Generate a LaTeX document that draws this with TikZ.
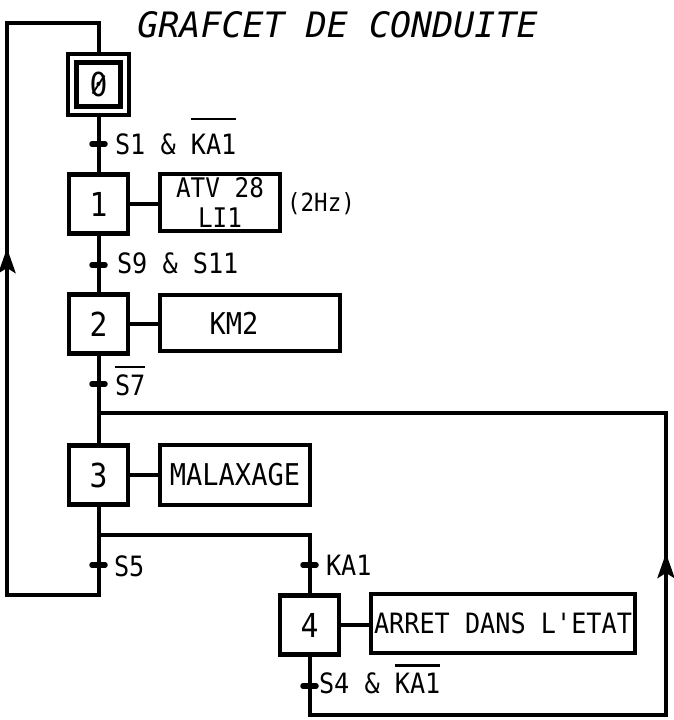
\documentclass[tikz,border=0pt]{standalone}
\usepackage{fontspec}
\usetikzlibrary{arrows.meta}
\newfontfamily\pf[FakeStretch=0.9,Ligatures=TeXOff]{DejaVu Sans Mono}
\newfontfamily\tf{DejaVu Sans Mono}
\newcommand\ob[2][8pt]{\setbox0\hbox{#2}\rlap{\raisebox{\dimexpr\ht0+#1\relax}{\rule{\wd0}{2.5pt}}}\box0}
\begin{document}
\begin{tikzpicture}[x=1pt,y=-1pt,line width=4pt,
  stepbox/.style={draw,line width=4.5pt,minimum size=59pt,inner sep=0pt,font=\pf\fontsize{33}{33}\selectfont},
  actbox/.style={draw,line width=4.5pt,inner sep=0pt,align=center,font=\pf\fontsize{29}{31}\selectfont},
  lab/.style={anchor=base west,inner sep=0pt,font=\pf\fontsize{28}{28}\selectfont},
  tick/.style={line width=5.5pt,line cap=round},
  uparrow/.style={-{Stealth[length=25pt,width=17pt,inset=5pt]}}]
\useasboundingbox (0,0) rectangle (674,720);
% title
\node[anchor=base,inner sep=0pt,font=\tf\itshape\fontsize{35}{35}\selectfont] (title) at (337.5,37) {GRAFCET DE CONDUITE};
% steps
\node[stepbox,minimum size=44pt] (s0) at (98.5,84.5) {0};
\node[draw,line width=4.5pt,minimum size=61pt,inner sep=0pt] (s0o) at (s0) {};
\draw[line width=1.8pt] ([shift={(-6,9)}]s0.center) -- ([shift={(6,-9)}]s0.center);
\node[stepbox] (s1) at (98.5,204) {1};
\node[stepbox] (s2) at (98.5,324) {2};
\node[stepbox] (s3) at (98.5,475) {3};
\node[stepbox] (s4) at (309.5,625) {4};
% actions
\node[actbox,minimum width=120pt,minimum height=57pt,font=\pf\fontsize{27}{30}\selectfont] (a1) at (220,202.5) {ATV 28\\LI1};
\node[inner sep=0pt,font=\pf\fontsize{25}{25}\selectfont] (hz) at (321,204) {(2Hz)};
\node[actbox,minimum width=180pt,minimum height=56pt,font=\pf\fontsize{30}{30}\selectfont] (a2) at (250,323) {KM2\hspace{32pt}};
\node[actbox,minimum width=150pt,minimum height=60pt,font=\pf\fontsize{30}{30}\selectfont] (a3) at (235,475) {MALAXAGE};
\node[actbox,minimum width=264pt,minimum height=59pt,font=\pf\fontsize{28}{28}\selectfont] (a4) at (503,623.5) {ARRET DANS L'ETAT};
% coordinates
\coordinate (t1) at (98.5,144);
\coordinate (t2) at (98.5,265);
\coordinate (t3) at (98.5,384);
\coordinate (t4) at (98.5,565);
\coordinate (t5) at (309.5,565);
\coordinate (t6) at (309.5,686);
\coordinate (jt) at (98.5,413);
\coordinate (rt) at (666,413);
\coordinate (rb) at (666,715);
\coordinate (b3) at (98.5,535);
\coordinate (bl) at (98.5,595);
\coordinate (lb) at (7,595);
\coordinate (lt) at (7,23);
\coordinate (mt) at (98.5,23);
\coordinate (la0) at (7,290);
\coordinate (la) at (7,248);
\coordinate (ra0) at (666,595);
\coordinate (ra) at (666,553);
% connectors
\draw (s0o.south) -- (s1.north);
\draw (s1.south) -- (s2.north);
\draw (s2.south) -- (s3.north);
\draw (s3.south) -- (b3) -| (s4.north);
\draw (b3) -- (bl) -- (lb) -- (lt) -- (mt) -- (s0o.north);
\draw (s4.south) |- (rb) -- (rt) -- (jt);
\draw (s1.east) -- (s1.east -| a1.west);
\draw (s2.east) -- (s2.east -| a2.west);
\draw (s3.east) -- (s3.east -| a3.west);
\draw (s4.east) -- (s4.east -| a4.west);
\draw[uparrow] (la0) -- (la);
\draw[uparrow] (ra0) -- (ra);
% transitions
\foreach \t in {t1,t2,t3,t4,t5,t6}{\draw[tick] ([xshift=-6.5pt]\t) -- ([xshift=6.5pt]\t);}
\node[lab] (l1) at (113,154) {S1 \& \ob[13.5pt]{KA1}};
\node[lab] (l2) at (115,273) {S9 \& S11};
\node[lab] (l3) at (113,395) {\ob[6pt]{S7}};
\node[lab] (l4) at (112,576) {S5};
\node[lab] (l5) at (324,575) {KA1};
\node[lab] (l6) at (317,693) {S4 \& \ob[6pt]{KA1}};
\end{tikzpicture}
\end{document}
